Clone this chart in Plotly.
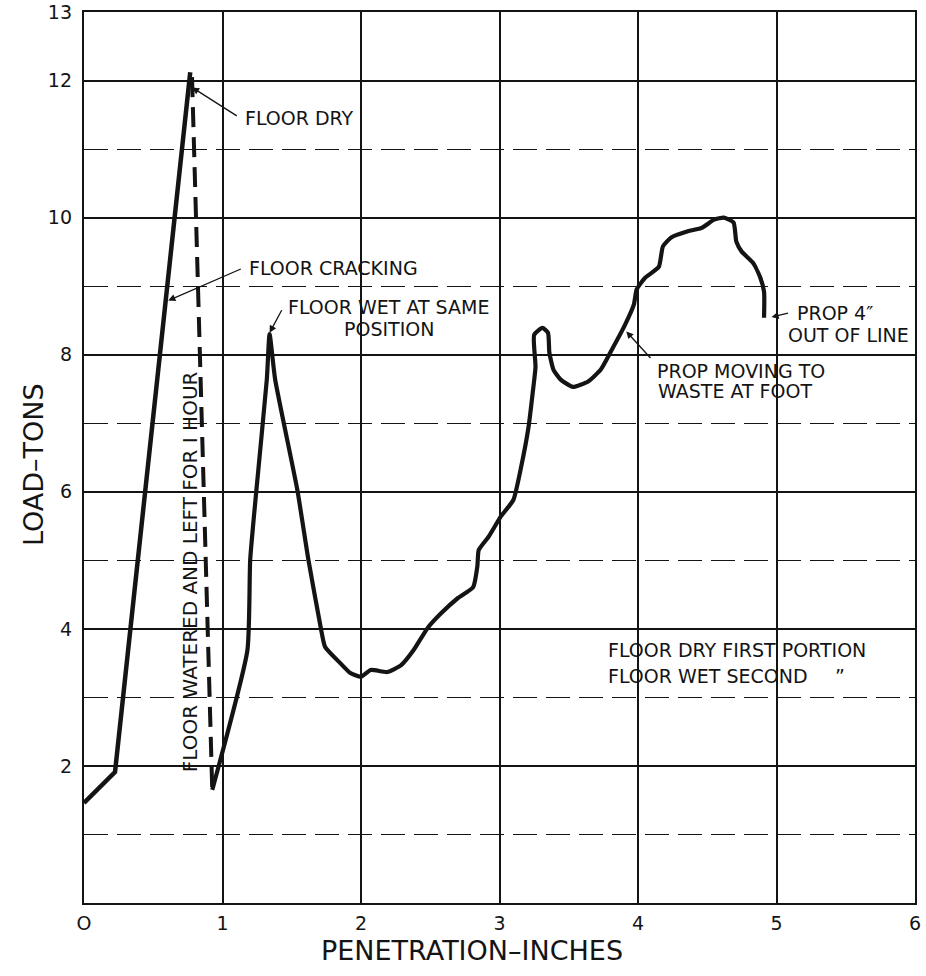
import plotly.graph_objects as go

# Load–penetration record of a prop: floor dry, then watered, then loaded again
dry_x = [0.0, 0.224, 0.767]
dry_y = [1.46, 1.91, 12.12]

watered_x = [0.78, 0.926]
watered_y = [12.05, 1.65]

wet_x = [0.926, 1.18, 1.20, 1.245, 1.32, 1.34, 1.38, 1.54, 1.62, 1.71, 1.74, 1.85, 1.92,
         2.00, 2.07, 2.19, 2.29, 2.38, 2.48, 2.58, 2.70, 2.81, 2.84, 2.85, 2.92, 3.01,
         3.10, 3.16, 3.21, 3.24, 3.26, 3.25, 3.31, 3.35, 3.36, 3.39, 3.44, 3.53, 3.64,
         3.73, 3.81, 3.90, 3.97, 3.99, 4.05, 4.15, 4.18, 4.24, 4.36, 4.46, 4.55, 4.62,
         4.69, 4.71, 4.75, 4.83, 4.88, 4.91, 4.91]
wet_y = [1.65, 3.69, 5.01, 6.03, 7.64, 8.30, 7.64, 6.03, 5.01, 4.01, 3.74, 3.50, 3.36,
         3.30, 3.40, 3.37, 3.47, 3.69, 4.01, 4.23, 4.45, 4.61, 4.91, 5.15, 5.34, 5.64,
         5.88, 6.40, 6.95, 7.45, 7.82, 8.29, 8.39, 8.32, 8.03, 7.78, 7.64, 7.53, 7.61,
         7.78, 8.07, 8.41, 8.73, 8.95, 9.12, 9.28, 9.58, 9.71, 9.80, 9.85, 9.97, 10.0,
         9.93, 9.65, 9.50, 9.34, 9.14, 8.92, 8.54]

x_ticks = [0, 1, 2, 3, 4, 5, 6]
x_tick_text = ["O", "1", "2", "3", "4", "5", "6"]
y_ticks = [2, 4, 6, 8, 10, 12, 13]
y_minor = [1, 3, 5, 7, 9, 11]

INK = "#141414"
FONT = "DejaVu Sans"

fig = go.Figure()
fig.add_trace(go.Scatter(x=dry_x, y=dry_y, mode="lines",
                         line=dict(color=INK, width=4.5), showlegend=False))
fig.add_trace(go.Scatter(x=watered_x, y=watered_y, mode="lines",
                         line=dict(color=INK, width=4, dash="20px,10px"), showlegend=False))
fig.add_trace(go.Scatter(x=wet_x, y=wet_y, mode="lines",
                         line=dict(color=INK, width=4.2, shape="spline", smoothing=0.5),
                         showlegend=False))

ann = []


def label(x, y, text, size=19, anchor="left"):
    ann.append(dict(x=x, y=y, xref="x", yref="y", text=text, showarrow=False,
                    xanchor=anchor, yanchor="middle",
                    font=dict(family=FONT, size=size, color=INK)))


def pointer(tail, tip):
    ann.append(dict(x=tip[0], y=tip[1], ax=tail[0], ay=tail[1], xref="x", yref="y",
                    axref="x", ayref="y", text="", showarrow=True,
                    arrowhead=2, arrowsize=1.1, arrowwidth=1.3, arrowcolor=INK))


label(1.15, 11.45, "FLOOR DRY")
pointer((1.114, 11.47), (0.78, 11.9))

label(1.18, 9.26, "FLOOR CRACKING")
pointer((1.143, 9.26), (0.608, 8.79))

label(1.46, 8.69, "FLOOR WET AT SAME")
label(1.865, 8.38, "POSITION")
pointer((1.433, 8.67), (1.34, 8.32))

label(4.125, 7.76, "PROP MOVING TO")
label(4.13, 7.47, "WASTE AT FOOT")
pointer((4.10, 7.93), (3.915, 8.34))

label(5.13, 8.61, "PROP 4″")
label(5.065, 8.29, "OUT OF LINE")
pointer((5.094, 8.61), (4.964, 8.55))

label(3.77, 3.69, "FLOOR DRY FIRST PORTION")
label(3.77, 3.31, "FLOOR WET SECOND")
label(5.456, 3.31, "”", anchor="center")

ann.append(dict(x=0.767, y=4.83, xref="x", yref="y", text="FLOOR WATERED AND LEFT FOR I HOUR",
                showarrow=False, textangle=-90, xanchor="center", yanchor="middle",
                font=dict(family=FONT, size=20, color=INK)))

# axis titles, placed in plot-domain fractions
ann.append(dict(x=(472 - 84) / 831, y=(903 - 950) / 891, xref="paper", yref="paper",
                text="PENETRATION–INCHES", showarrow=False, xanchor="center", yanchor="middle",
                font=dict(family=FONT, size=27, color=INK)))
ann.append(dict(x=(33 - 84) / 831, y=(903 - 465) / 891, xref="paper", yref="paper",
                text="LOAD–TONS", showarrow=False, textangle=-90, xanchor="center",
                yanchor="middle", font=dict(family=FONT, size=27, color=INK)))

fig.update_layout(
    width=926, height=976,
    margin=dict(l=84, r=11, t=12, b=73),
    paper_bgcolor="white", plot_bgcolor="white",
    showlegend=False,
    annotations=ann,
    xaxis=dict(range=[0, 6], tickvals=x_ticks, ticktext=x_tick_text, automargin=False,
               showgrid=True, gridcolor=INK, gridwidth=1.6,
               showline=True, linecolor=INK, linewidth=2.4, mirror=True,
               zeroline=False, ticks="", ticklabelstandoff=2,
               tickfont=dict(family=FONT, size=19, color=INK)),
    yaxis=dict(range=[0, 13], tickvals=y_ticks, automargin=False,
               showgrid=True, gridcolor=INK, gridwidth=1.6,
               minor=dict(tickvals=y_minor, showgrid=True, gridcolor=INK,
                          gridwidth=1.4, griddash="24px,9px"),
               showline=True, linecolor=INK, linewidth=2.4, mirror=True,
               zeroline=False, ticks="", ticklabelstandoff=6,
               tickfont=dict(family=FONT, size=19, color=INK)),
)

fig.write_html("out.html")
